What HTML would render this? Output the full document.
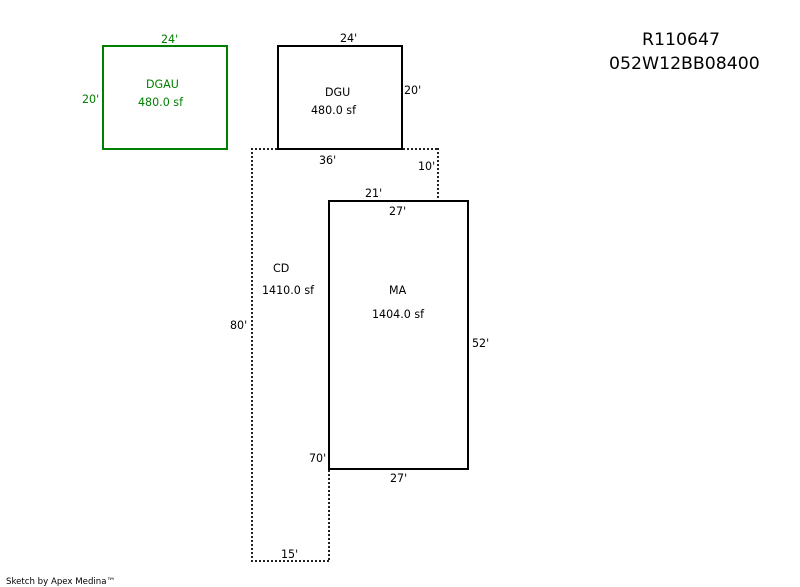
<!DOCTYPE html>
<html>
<head>
<meta charset="utf-8">
<style>
html,body{margin:0;padding:0;background:#fff;width:800px;height:587px;overflow:hidden}
svg{display:block;position:absolute;left:0;top:0}
text{font-family:"DejaVu Sans","Liberation Sans",sans-serif;font-size:11.1px;fill:#000}
.g{fill:#008000}
.t{font-size:17.3px}
.s{font-size:8.6px}
.h,.v{position:absolute}
.h{height:2px;background:repeating-linear-gradient(90deg,#222 0 2px,transparent 2px 4px)}
.v{width:2px;background:repeating-linear-gradient(180deg,#222 0 2px,transparent 2px 4px)}
</style>
</head>
<body>
<div class="h" style="left:251px;top:148px;width:27px"></div>
<div class="h" style="left:403px;top:148px;width:36px"></div>
<div class="h" style="left:251px;top:560px;width:79px"></div>
<div class="v" style="left:251px;top:148px;height:414px"></div>
<div class="v" style="left:437px;top:148px;height:52px"></div>
<div class="v" style="left:328px;top:470px;height:92px"></div>
<svg width="800" height="587" viewBox="0 0 800 587" xmlns="http://www.w3.org/2000/svg">
<g fill="none" shape-rendering="crispEdges">
<rect x="103" y="46" width="124" height="103" stroke="#008000" stroke-width="2"/>
<rect x="278" y="46" width="124" height="103" stroke="#000" stroke-width="2"/>
<rect x="329" y="201" width="139" height="268" stroke="#000" stroke-width="2"/>
</g>
<text class="g" x="161" y="43">24'</text>
<text class="g" x="82" y="103">20'</text>
<text class="g" x="146" y="88">DGAU</text>
<text class="g" x="138" y="106">480.0 sf</text>
<text x="340" y="42">24'</text>
<text x="404" y="94">20'</text>
<text x="325" y="96">DGU</text>
<text x="311" y="114">480.0 sf</text>
<text x="319" y="164">36'</text>
<text x="418" y="170">10'</text>
<text x="365" y="197">21'</text>
<text x="389" y="215">27'</text>
<text x="273" y="272">CD</text>
<text x="262" y="294">1410.0 sf</text>
<text x="389" y="294">MA</text>
<text x="372" y="318">1404.0 sf</text>
<text x="230" y="329">80'</text>
<text x="472" y="347">52'</text>
<text x="309" y="462">70'</text>
<text x="390" y="482">27'</text>
<text x="281" y="558">15'</text>
<text class="t" x="642" y="45">R110647</text>
<text class="t" x="609" y="69">052W12BB08400</text>
<text class="s" x="6" y="584">Sketch by Apex Medina™</text>
</svg>
</body>
</html>
